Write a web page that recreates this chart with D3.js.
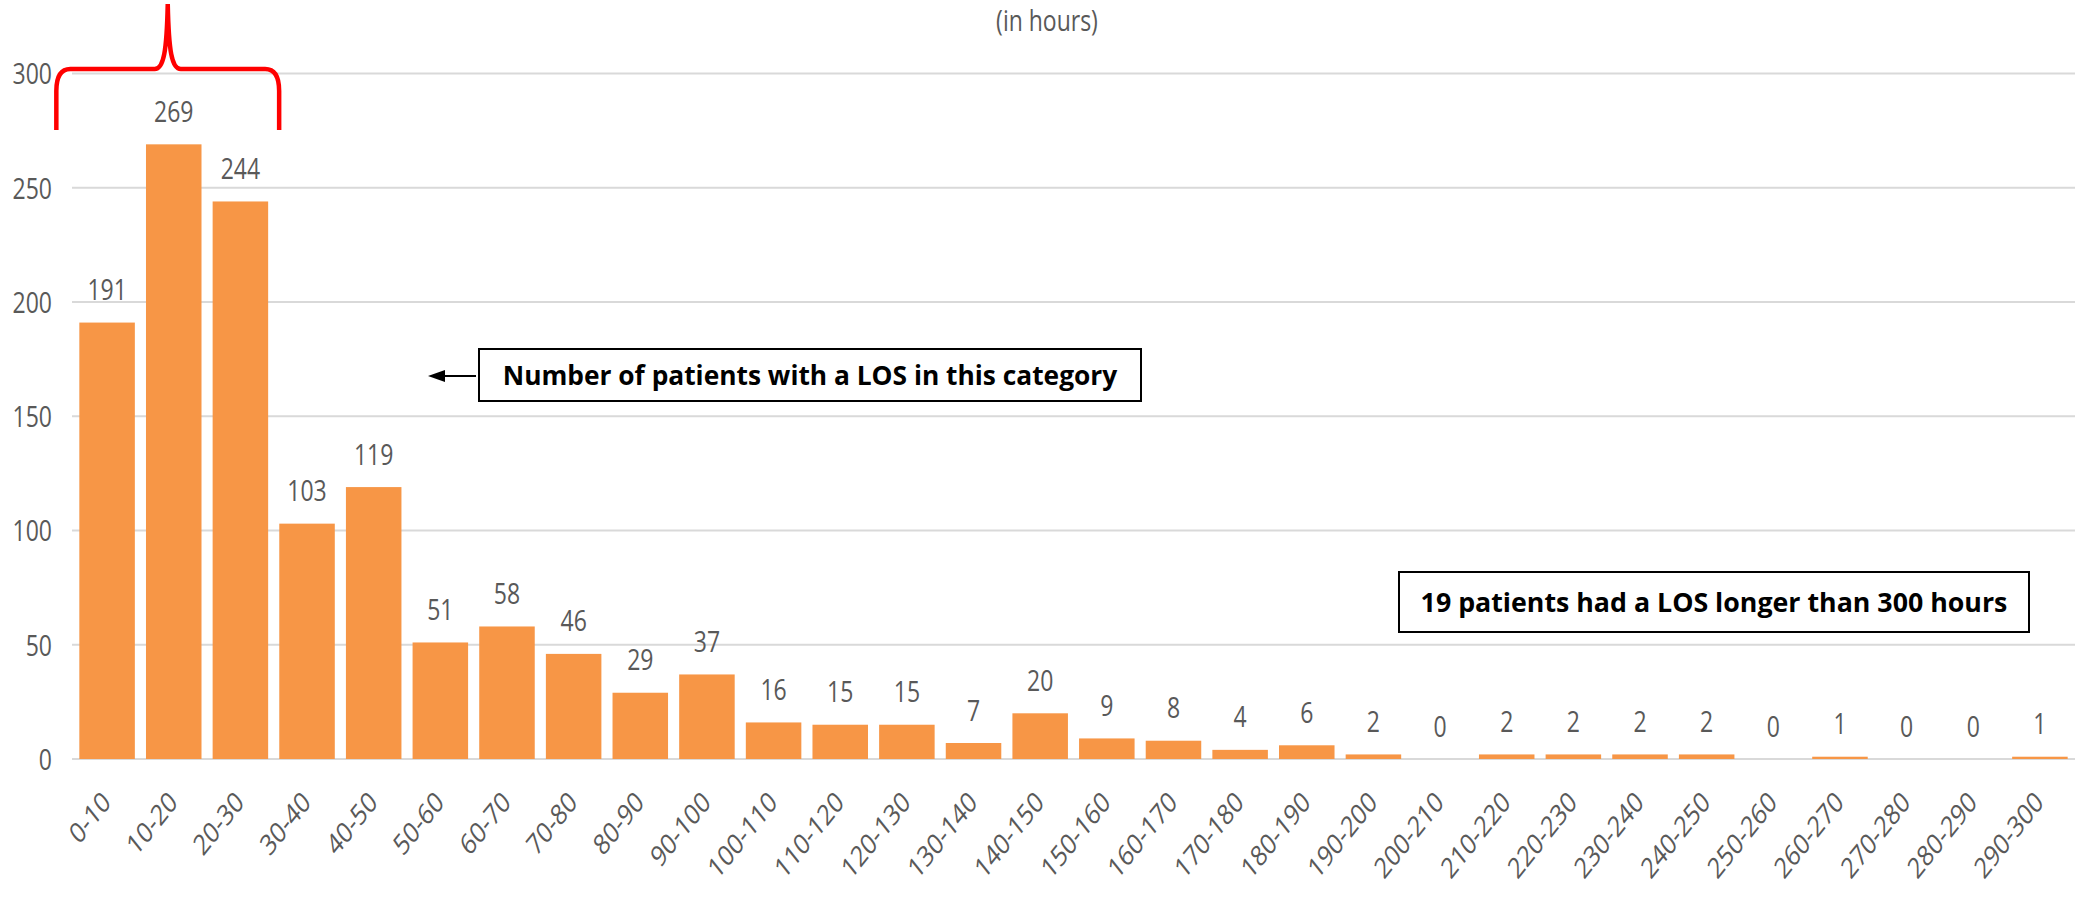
<!DOCTYPE html>
<html>
<head>
<meta charset="utf-8">
<script src="https://cdn.jsdelivr.net/npm/d3@7"></script>
<style>
  html, body { margin: 0; padding: 0; background: #fff; }
  svg { display: block; }
  text { font-family: "Open Sans", "Noto Sans", sans-serif; }
</style>
</head>
<body>
<script>
const categories = ["0-10","10-20","20-30","30-40","40-50","50-60","60-70","70-80","80-90","90-100",
  "100-110","110-120","120-130","130-140","140-150","150-160","160-170","170-180","180-190","190-200",
  "200-210","210-220","220-230","230-240","240-250","250-260","260-270","270-280","280-290","290-300"];
const patients = [191,269,244,103,119,51,58,46,29,37,16,15,15,7,20,9,8,4,6,2,0,2,2,2,2,0,1,0,0,1];
const yTicks = [0,50,100,150,200,250,300];
const subtitle = "(in hours)";
const note1 = "Number of patients with a LOS in this category";
const note2 = "19 patients had a LOS longer than 300 hours";

const W = 2095, H = 901;
const svg = d3.select("body").append("svg").attr("width", W).attr("height", H);

const x = d3.scaleBand().domain(categories).range([72, 2075]).paddingInner(0.167).paddingOuter(0.11);
const y = d3.scaleLinear().domain([0, 300]).range([759, 73.5]);

const gray = "#595959";
const fs = 23;     // font size
const ky = 1.25;   // vertical stretch of the original picture

// gridlines
svg.append("g").selectAll("line").data(yTicks).join("line")
  .attr("x1", 72).attr("x2", 2075)
  .attr("y1", d => y(d)).attr("y2", d => y(d))
  .attr("stroke", "#d9d9d9").attr("stroke-width", 2);

// y axis labels
const yAxis = svg.append("g").attr("transform", "translate(52,0)")
  .call(d3.axisLeft(y).tickValues(yTicks).tickSize(0).tickPadding(0));
yAxis.select(".domain").remove();
yAxis.attr("font-family", null).attr("font-size", null);
yAxis.selectAll("text").attr("font-size", fs).attr("fill", gray)
  .attr("x", 0).attr("dy", "0.357em")
  .attr("transform", `scale(1,${ky})`);

// bars
svg.append("g").selectAll("rect").data(patients).join("rect")
  .attr("x", (d, i) => x(categories[i]))
  .attr("y", d => y(d))
  .attr("width", x.bandwidth())
  .attr("height", d => y(0) - y(d))
  .attr("fill", "#F79646");

// data labels
svg.append("g").selectAll("text").data(patients).join("text")
  .attr("transform", (d, i) => `translate(${x(categories[i]) + x.bandwidth() / 2},${y(d) - 22.5}) scale(1,${ky})`)
  .attr("text-anchor", "middle")
  .attr("font-size", fs).attr("fill", gray)
  .text(d => d);

// x labels
const xAxis = svg.append("g").attr("transform", `translate(0,${y(0)})`)
  .call(d3.axisBottom(x).tickSize(0).tickPadding(0));
xAxis.select(".domain").remove();
xAxis.attr("font-family", null).attr("font-size", null);
xAxis.selectAll("text")
  .attr("font-size", fs).attr("fill", gray)
  .attr("text-anchor", "end")
  .attr("dy", 0).attr("y", 0)
  .attr("transform", `translate(5,45) scale(1,${ky}) rotate(-45)`);

// subtitle (cut at top in the original; kept fully visible here)
svg.append("text")
  .attr("transform", `translate(1047,31) scale(1,${ky})`)
  .attr("text-anchor", "middle").attr("font-size", fs).attr("fill", gray)
  .text(subtitle);

// red brace
const bl = x(categories[0]) - 23, br = x(categories[2]) + x.bandwidth() + 11;
const bm = bl + (br - bl) * 0.5;
const by = 69, bb = 130, bt = 4;
svg.append("path")
  .attr("d", `M${bl},${bb} L${bl},${by+22} Q${bl},${by} ${bl+14},${by} L${bm-13},${by}
    C${bm-4},${by} ${bm-1},${by-18} ${bm},${bt} C${bm+1},${by-18} ${bm+4},${by} ${bm+13},${by}
    L${br-14},${by} Q${br},${by} ${br},${by+22} L${br},${bb}`)
  .attr("fill", "none").attr("stroke", "#ff0000").attr("stroke-width", 4.5);

// annotation boxes
function note(text, x0, y0, w, h, tw) {
  svg.append("rect").attr("x", x0).attr("y", y0).attr("width", w).attr("height", h)
    .attr("fill", "#fff").attr("stroke", "#000").attr("stroke-width", 2);
  const t = svg.append("text")
    .attr("text-anchor", "middle").attr("font-size", 22).attr("font-weight", "bold")
    .attr("fill", "#000").attr("dy", "0.357em")
    .text(text);
  const natural = t.node().getComputedTextLength();
  const s = tw / natural;
  t.attr("transform", `translate(${x0 + w / 2},${y0 + h / 2}) scale(${s},${ky})`);
}
note(note1, 479, 349, 662, 52, 615);
note(note2, 1399, 572, 630, 60, 587);

// arrow
svg.append("line").attr("x1", 476).attr("x2", 442).attr("y1", 376).attr("y2", 376)
  .attr("stroke", "#000").attr("stroke-width", 2);
svg.append("path").attr("d", "M428,376 L445,370 L445,382 Z").attr("fill", "#000");
</script>
</body>
</html>
